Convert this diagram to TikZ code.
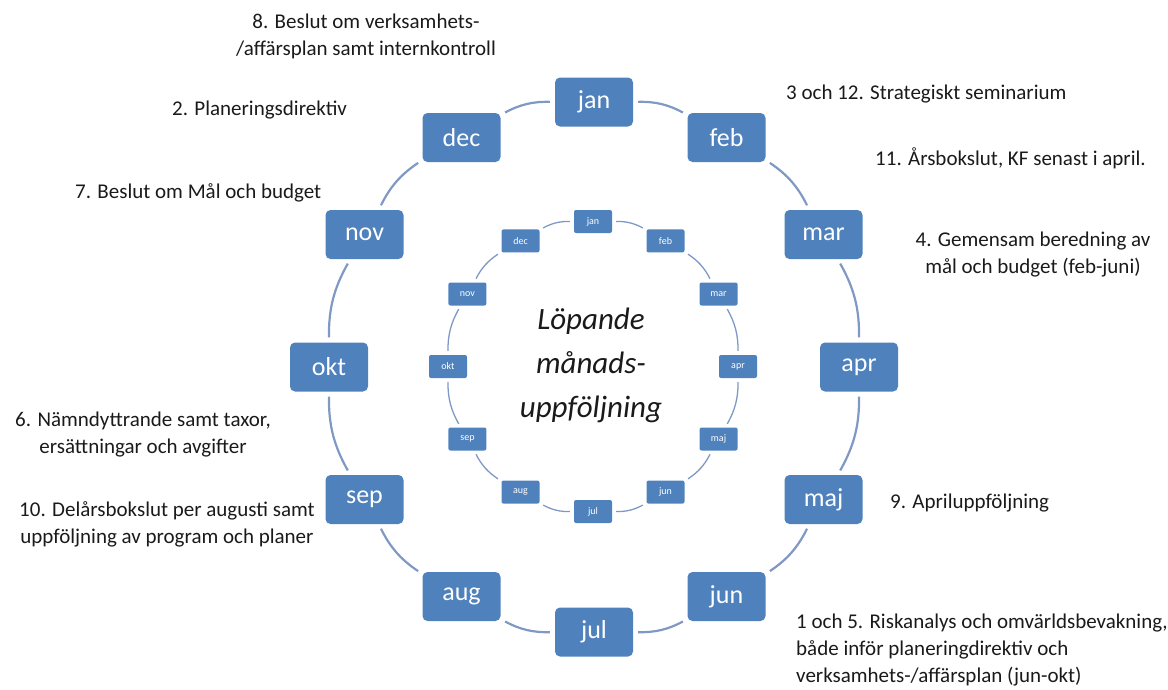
\documentclass[tikz,border=0pt]{standalone}
\usepackage{fontspec}
\setmainfont{Carlito}
\definecolor{boxblue}{HTML}{4F81BD}
\definecolor{ringc}{HTML}{7F98C4}
\definecolor{notec}{HTML}{1A1A1A}
\begin{document}
\begin{tikzpicture}[x=1pt,y=-1pt,
  bigm/.style={rectangle, rounded corners=5pt, fill=boxblue, text=white, minimum width=78pt, minimum height=49pt, font=\fontsize{26}{30}\selectfont, inner sep=0pt},
  smallm/.style={rectangle, rounded corners=2pt, fill=boxblue, text=white, minimum width=38pt, minimum height=23pt, font=\fontsize{10}{12}\selectfont, inner sep=0pt},
  bigring/.style={draw=ringc, line width=2.2pt, shorten <=5pt, shorten >=5pt},
  smallring/.style={draw=ringc, line width=1.3pt, shorten <=4pt, shorten >=4pt},
  note/.style={font=\fontsize{21}{27}\selectfont, text=notec, inner sep=0pt},
  centre/.style={font=\fontsize{31}{44}\selectfont\itshape, text=notec, align=center, inner sep=0pt}]
\useasboundingbox (0,0) rectangle (1168,689);
\foreach \m [count=\i] in {jan,feb,mar,apr,maj,jun,jul,aug,sep,okt,nov,dec}{
  \pgfmathsetmacro\a{-90+30*(\i-1)}
  \node[bigm] (o\i) at ({594+265*cos(\a)},{367+265*sin(\a)}) {\m};
  \node[smallm] (s\i) at ({593+145*cos(\a)},{366.5+145*sin(\a)}) {\m};
}
\foreach \i in {1,...,12}{
  \pgfmathtruncatemacro\j{mod(\i,12)+1}
  \draw[bigring] (o\i) to[bend left=15] (o\j);
  \draw[smallring] (s\i) to[bend left=15] (s\j);
}
\node[centre] (mid) at (591,365) {Löpande\\månads-\\uppföljning};
\node[note, align=center] (n8) at (366,36) {8. Beslut om verksamhets-\\/affärsplan samt internkontroll};
\node[note, anchor=west] (n2) at (172,110) {2. Planeringsdirektiv};
\node[note, anchor=west] (n7) at (75,193) {7. Beslut om Mål och budget};
\node[note, anchor=west] (n3) at (786,94) {3 och 12. Strategiskt seminarium};
\node[note, anchor=west] (n11) at (875,158) {11. Årsbokslut, KF senast i april.};
\node[note, align=center] (n4) at (1033,255) {4. Gemensam beredning av\\mål och budget (feb-juni)};
\node[note, align=center] (n6) at (143,435) {6. Nämndyttrande samt taxor,\\ersättningar och avgifter};
\node[note, align=center] (n10) at (167,524) {10. Delårsbokslut per augusti samt\\uppföljning av program och planer};
\node[note, anchor=west] (n9) at (890,503) {9. Apriluppföljning};
\node[note, align=left, anchor=west] (n1) at (796,650) {1 och 5. Riskanalys och omvärldsbevakning,\\både inför planeringdirektiv och\\verksamhets-/affärsplan (jun-okt)};
\end{tikzpicture}
\end{document}
